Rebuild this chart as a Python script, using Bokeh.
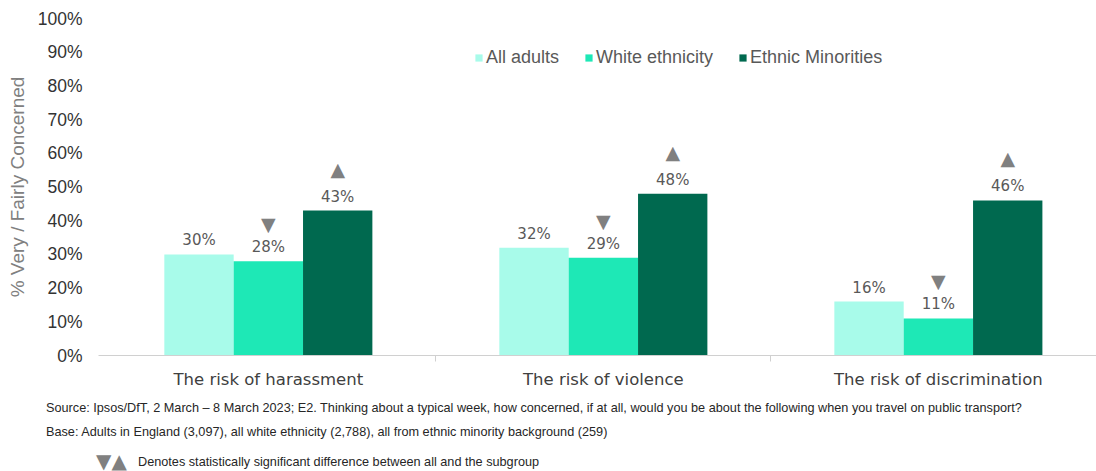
from bokeh.plotting import figure
from bokeh.models import ColumnDataSource, FixedTicker, Legend, LegendItem, Range1d, Div
from bokeh.layouts import column
from bokeh.core.properties import value
from bokeh.embed import file_html
from bokeh.resources import INLINE

categories = ["The risk of harassment", "The risk of violence", "The risk of discrimination"]
series = ["All adults", "White ethnicity", "Ethnic Minorities"]
all_adults = [30, 32, 16]
white_ethnicity = [28, 29, 11]
ethnic_minorities = [43, 48, 46]
# significance markers: "" none, "▲" higher, "▼" lower
sig_all = ["", "", ""]
sig_white = ["▼", "▼", "▼"]
sig_ethnic = ["▲", "▲", "▲"]
y_ticks = [0, 10, 20, 30, 40, 50, 60, 70, 80, 90, 100]
y_tick_labels = [f"{t}%" for t in y_ticks]
colors = ["#a8fbea", "#1ee8b6", "#00694f"]

source_text = ("Source: Ipsos/DfT, 2 March \u2013 8 March 2023; E2. Thinking about a typical week, how concerned, "
               "if at all, would you be about the following when you travel on public transport?")
base_text = "Base: Adults in England (3,097), all white ethnicity (2,788), all from ethnic minority background (259)"
note_marks = "\u25bc\u25b2"
note_text = "Denotes statistically significant difference between all and the subgroup"

W, H = 1096, 471
PH = 395
p = figure(width=W, height=PH, output_backend="svg", toolbar_location=None,
           x_range=Range1d(-0.507, 2.472), y_range=Range1d(0, 100),
           min_border_left=98, min_border_right=0, min_border_top=18, min_border_bottom=40)
p.outline_line_color = None
p.xgrid.grid_line_color = None
p.ygrid.grid_line_color = None
p.background_fill_color = "white"
p.border_fill_color = "white"

bw = 0.207
offsets = [-bw, 0.0, bw]
vals = [all_adults, white_ethnicity, ethnic_minorities]
sigs = [sig_all, sig_white, sig_ethnic]
xs = list(range(len(categories)))
renderers = []
for i, name in enumerate(series):
    src = ColumnDataSource(dict(
        x=[x + offsets[i] for x in xs],
        top=vals[i],
        lab=[f"{v}%" for v in vals[i]],
        sig=sigs[i],
        sig_off=[-42 if s == "\u25b2" else -37 for s in sigs[i]],
    ))
    r = p.vbar(x="x", top="top", width=bw, source=src, fill_color=colors[i], line_color=None)
    renderers.append(r)
    p.text(x="x", y="top", text="lab", source=src, text_align="center", text_baseline="middle",
           y_offset=-14, text_font=value("DejaVu Sans"), text_font_size="15px", text_color="#595959")
    p.text(x="x", y="top", text="sig", source=src, text_align="center", text_baseline="middle",
           y_offset="sig_off", text_font=value("DejaVu Sans"), text_font_size="19px", text_color="#808080")

# axes
p.yaxis.ticker = FixedTicker(ticks=y_ticks)
p.yaxis.major_label_overrides = {t: l for t, l in zip(y_ticks, y_tick_labels)}
p.yaxis.axis_line_color = None
p.yaxis.major_tick_line_color = None
p.yaxis.minor_tick_line_color = None
p.yaxis.major_label_text_font = "Liberation Sans"
p.yaxis.major_label_text_font_size = "17.5px"
p.yaxis.major_label_text_color = "#333333"
p.yaxis.major_label_standoff = 10
p.yaxis.axis_label = "% Very / Fairly Concerned"
p.yaxis.axis_label_text_font = "Liberation Sans"
p.yaxis.axis_label_text_font_size = "19px"
p.yaxis.axis_label_text_font_style = "normal"
p.yaxis.axis_label_text_color = "#808080"
p.yaxis.axis_label_standoff = 7

p.xaxis.ticker = FixedTicker(ticks=xs, minor_ticks=[0.5, 1.5])
p.xaxis.major_label_overrides = {i: c for i, c in enumerate(categories)}
p.xaxis.axis_line_color = "#d0d0d0"
p.xaxis.major_tick_line_color = None
p.xaxis.minor_tick_line_color = "#d0d0d0"
p.xaxis.minor_tick_in = 0
p.xaxis.minor_tick_out = 6
p.xaxis.major_label_text_font = "DejaVu Sans"
p.xaxis.major_label_text_font_size = "16.5px"
p.xaxis.major_label_text_color = "#404040"
p.xaxis.major_label_standoff = 8

legend = Legend(items=[LegendItem(label=s, renderers=[r]) for s, r in zip(series, renderers)],
                orientation="horizontal", location=(376, 287), padding=0, margin=0, spacing=25,
                glyph_width=9, glyph_height=9, label_standoff=3,
                label_text_font="Liberation Sans", label_text_font_size="18px",
                label_text_color="#595959", border_line_color=None, background_fill_alpha=0)
p.add_layout(legend, "center")

# footnotes below the chart
line = "position:absolute;white-space:nowrap;line-height:15px;"
html = (
    '<div style="position:relative;width:%dpx;height:%dpx;font-family:\'Liberation Sans\';'
    'font-size:12.7px;color:#262626;">' % (W, H - PH)
    + '<div style="%sleft:96px;top:59px;font-size:20px;color:#808080;font-family:\'DejaVu Sans\';">%s</div>'
      % (line, note_marks)
    + '<div style="%sleft:46px;top:6px;">%s</div>' % (line, source_text)
    + '<div style="%sleft:46px;top:30px;">%s</div>' % (line, base_text)
    + '<div style="%sleft:138px;top:60px;">%s</div>' % (line, note_text)
    + '</div>'
)
notes = Div(text=html, width=W, height=H - PH, margin=0)

layout = column(p, notes, spacing=0, margin=0)
open("out.html", "w").write(file_html(layout, INLINE))
